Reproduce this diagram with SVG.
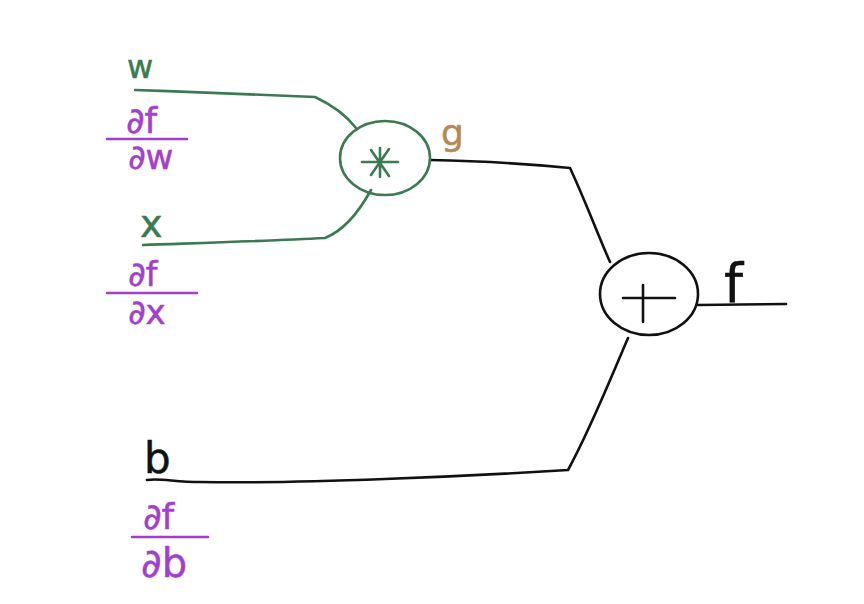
<svg xmlns="http://www.w3.org/2000/svg" width="864" height="604" viewBox="0 0 864 604">
  <style>
    .ink { fill: none; stroke-width: 2.6; stroke-linecap: round; stroke-linejoin: round; }
    .green { stroke: #3b7a55; }
    .black { stroke: #111; }
    .purple { stroke: #a23fd0; }
    .t { font-family: "DejaVu Sans", "Liberation Sans", sans-serif; stroke-width: 0.5; }
    .tg { fill: #3b7a55; stroke: #3b7a55; }
    .tk { fill: #111; stroke: #111; }
    .tp { fill: #a23fd0; stroke: #a23fd0; }
    .tb { fill: #b58a52; stroke: #b58a52; }
  </style>
  <rect width="864" height="604" fill="#ffffff"/>

  <!-- connectors -->
  <g id="connectors">
    <path class="ink green" d="M135,90 C200,92 270,95 315,97 C330,104 346,115 356,128"/>
    <path class="ink green" d="M143,245 C200,243 270,241 325,238 C345,230 360,210 371,190"/>
    <path class="ink black" d="M430,160 C480,161 530,164 570,168 C585,200 598,235 610,262"/>
    <path class="ink black" d="M698,305 L786,304"/>
    <path class="ink black" d="M628,338 C610,380 590,430 568,470 C470,476 300,484 200,482 C175,482 160,478 147,480"/>
  </g>

  <!-- multiply node -->
  <g id="node-mul">
    <ellipse class="ink green" cx="385" cy="158" rx="45" ry="37"/>
    <path class="ink green" d="M362,162 L398,162 M371,150 L389,176 M389,149 L371,175 M380,148 L380,177" stroke-width="2"/>
  </g>

  <!-- add node -->
  <g id="node-add">
    <ellipse class="ink black" cx="649" cy="294" rx="49" ry="41"/>
    <path class="ink black" d="M623,298 L675,298 M643,285 L643,322"/>
  </g>

  <!-- input w -->
  <g id="label-w">
    <text class="t tg" x="127" y="78" font-size="32">w</text>
    <text class="t tp" x="126" y="133" font-size="36">∂f</text>
    <line class="ink purple" x1="107" y1="139" x2="187" y2="139"/>
    <text class="t tp" x="128" y="169" font-size="34">∂w</text>
  </g>

  <!-- input x -->
  <g id="label-x">
    <text class="t tg" x="140" y="237" font-size="38">x</text>
    <text class="t tp" x="128" y="286" font-size="34">∂f</text>
    <line class="ink purple" x1="107" y1="293" x2="197" y2="293"/>
    <text class="t tp" x="128" y="324" font-size="34">∂x</text>
  </g>

  <!-- input b -->
  <g id="label-b">
    <text class="t tk" x="144" y="473" font-size="42">b</text>
    <text class="t tp" x="143" y="529" font-size="36">∂f</text>
    <line class="ink purple" x1="132" y1="537" x2="208" y2="537"/>
    <text class="t tp" x="141" y="577" font-size="40">∂b</text>
  </g>

  <!-- intermediate g -->
  <g id="label-g">
    <text class="t tb" x="441" y="145" font-size="36">g</text>
  </g>

  <!-- output f -->
  <g id="label-f">
    <text class="t tk" x="724" y="302" font-size="54">f</text>
  </g>
</svg>
